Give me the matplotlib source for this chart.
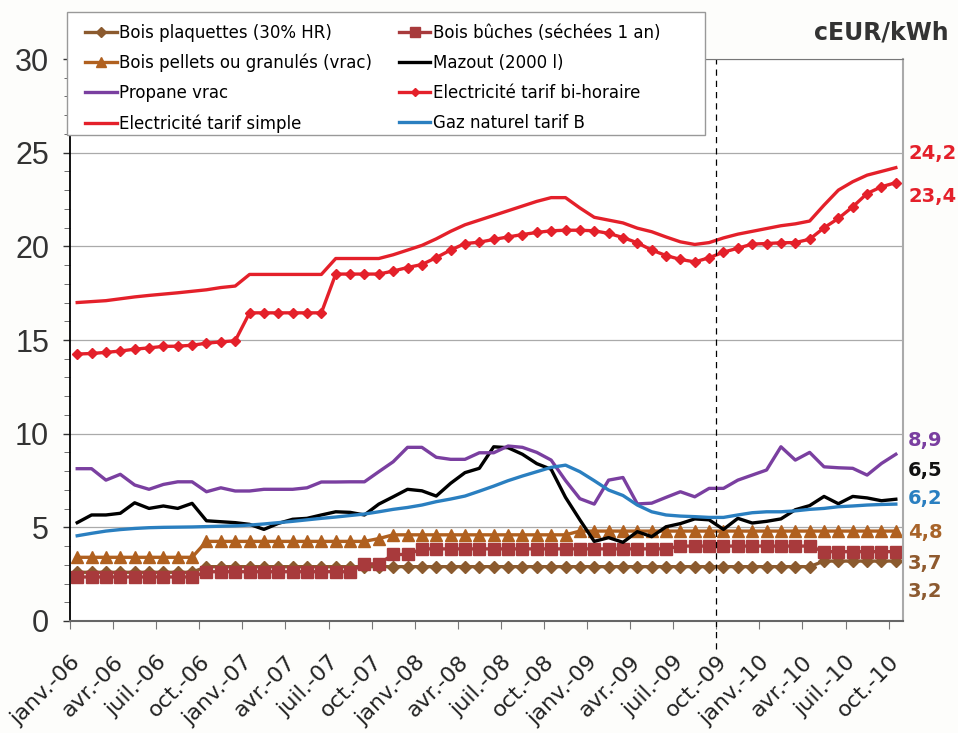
import matplotlib
matplotlib.use("Agg")
import matplotlib.pyplot as plt
import matplotlib.transforms as mtransforms
from matplotlib.patches import Rectangle
from matplotlib.ticker import MultipleLocator

# monthly prices, janv.-06 .. oct.-10 (58 months), cEUR/kWh
tick_labels = ["janv.-06", "avr.-06", "juil.-06", "oct.-06",
               "janv.-07", "avr.-07", "juil.-07", "oct.-07",
               "janv.-08", "avr.-08", "juil.-08", "oct.-08",
               "janv.-09", "avr.-09", "juil.-09", "oct.-09",
               "janv.-10", "avr.-10", "juil.-10", "oct.-10"]

plaquettes = [2.6] * 9 + [2.9] * 43 + [3.2] * 6
buches = [2.35] * 9 + [2.63] * 11 + [3.05] * 2 + [3.55] * 2 + [3.85] * 18 + [4.0] * 10 + [3.7] * 6
pellets = [3.4] * 9 + [4.25] * 12 + [4.4] + [4.6] * 13 + [4.8] * 23
mazout = [5.25, 5.66, 5.66, 5.75, 6.31, 6.01, 6.14, 6.01, 6.28, 5.35,
          5.3, 5.25, 5.16, 4.89, 5.21, 5.43, 5.48, 5.66, 5.83, 5.8,
          5.66, 6.24, 6.63, 7.03, 6.95, 6.67, 7.35, 7.92, 8.15, 9.3,
          9.25, 8.9, 8.4, 8.1, 6.6, 5.4, 4.25, 4.45, 4.2, 4.77,
          4.5, 5.03, 5.2, 5.45, 5.4, 4.89, 5.48, 5.23, 5.32, 5.45,
          5.94, 6.16, 6.65, 6.26, 6.65, 6.57, 6.42, 6.5]
propane = [8.13, 8.13, 7.52, 7.83, 7.26, 7.03, 7.29, 7.43, 7.43, 6.9,
           7.11, 6.94, 6.94, 7.03, 7.03, 7.03, 7.11, 7.42, 7.42, 7.43,
           7.43, 7.97, 8.5, 9.27, 9.27, 8.74, 8.63, 8.63, 8.98, 8.98,
           9.34, 9.27, 9.0, 8.59, 7.5, 6.53, 6.24, 7.52, 7.66, 6.25,
           6.29, 6.6, 6.9, 6.63, 7.08, 7.08, 7.52, 7.79, 8.06, 9.3,
           8.59, 9.0, 8.23, 8.18, 8.15, 7.79, 8.41, 8.9]
bihoraire = [14.25, 14.28, 14.34, 14.41, 14.51, 14.58, 14.66, 14.67, 14.72, 14.83,
             14.9, 14.96, 16.45, 16.45, 16.45, 16.45, 16.45, 16.45, 18.52, 18.52,
             18.52, 18.52, 18.68, 18.87, 19.03, 19.4, 19.8, 20.15, 20.22, 20.37,
             20.5, 20.63, 20.74, 20.83, 20.86, 20.86, 20.83, 20.69, 20.47, 20.19,
             19.8, 19.51, 19.3, 19.17, 19.39, 19.69, 19.9, 20.12, 20.15, 20.19,
             20.2, 20.38, 20.99, 21.49, 22.11, 22.82, 23.18, 23.4]
simple = [17.0, 17.05, 17.1, 17.2, 17.3, 17.38, 17.45, 17.52, 17.6, 17.68,
          17.8, 17.88, 18.5, 18.5, 18.5, 18.5, 18.5, 18.5, 19.35, 19.35,
          19.35, 19.35, 19.55, 19.8, 20.05, 20.4, 20.8, 21.15, 21.4, 21.65,
          21.9, 22.15, 22.4, 22.6, 22.6, 22.05, 21.55, 21.4, 21.25, 20.97,
          20.78, 20.5, 20.24, 20.1, 20.2, 20.45, 20.65, 20.8, 20.95, 21.1,
          21.2, 21.35, 22.2, 23.0, 23.45, 23.8, 24.0, 24.2]
gaz = [4.55, 4.68, 4.8, 4.88, 4.94, 4.98, 5.0, 5.01, 5.02, 5.04,
       5.06, 5.08, 5.12, 5.18, 5.25, 5.32, 5.4, 5.48, 5.55, 5.63,
       5.71, 5.83, 5.96, 6.06, 6.19, 6.37, 6.51, 6.67, 6.93, 7.2,
       7.49, 7.74, 7.97, 8.2, 8.32, 7.97, 7.49, 6.99, 6.7, 6.19,
       5.83, 5.66, 5.6, 5.57, 5.53, 5.53, 5.66, 5.78, 5.83, 5.83,
       5.88, 5.96, 6.01, 6.1, 6.14, 6.19, 6.22, 6.24]

months = [i + 0.5 for i in range(len(simple))]

fig = plt.figure(figsize=(9.58, 7.33), dpi=100)
fig.patch.set_facecolor("#fdfdfb")
ax = fig.add_axes([0.0731, 0.1528, 0.8695, 0.7667])

lw = 2.4
series = {}
series["plaq"], = ax.plot(months, plaquettes, color="#8b5a2e", lw=lw, marker="D", ms=6, label="Bois plaquettes (30% HR)")
series["buch"], = ax.plot(months, buches, color="#a83a3c", lw=lw, marker="s", ms=9, label="Bois bûches (séchées 1 an)")
series["pell"], = ax.plot(months, pellets, color="#b0601f", lw=lw, marker="^", ms=9, label="Bois pellets ou granulés (vrac)")
series["maz"], = ax.plot(months, mazout, color="black", lw=lw, label="Mazout (2000 l)")
series["prop"], = ax.plot(months, propane, color="#7a3fa0", lw=lw, label="Propane vrac")
series["bi"], = ax.plot(months, bihoraire, color="#e4202a", lw=lw, marker="D", ms=5, label="Electricité tarif bi-horaire")
series["simp"], = ax.plot(months, simple, color="#e4202a", lw=lw, label="Electricité tarif simple")
series["gaz"], = ax.plot(months, gaz, color="#2a7fc0", lw=lw, label="Gaz naturel tarif B")

ax.set_xlim(0, 58)
ax.set_ylim(0, 30)
ax.set_xticks(range(0, 58, 3))
ax.set_xticklabels(tick_labels, rotation=45, ha="right", rotation_mode="anchor",
                   fontsize=16, color="#222222")
shift = mtransforms.ScaledTranslation(14 / 100, 0, fig.dpi_scale_trans)
for lab in ax.get_xticklabels():
    lab.set_transform(lab.get_transform() + shift)
ax.yaxis.set_major_locator(MultipleLocator(5))
ax.yaxis.set_minor_locator(MultipleLocator(1))
for lab in ax.get_yticklabels():
    lab.set_fontfamily("Liberation Sans")
ax.tick_params(axis="y", labelsize=22, colors="#333333", length=5, width=1, pad=10)
ax.tick_params(axis="y", which="minor", length=4, color="#555555")
ax.tick_params(axis="x", length=6, color="#777777", pad=16)
ax.grid(axis="y", color="#aaaaaa", lw=0.9)
ax.set_axisbelow(True)
ax.spines["left"].set_color("black")
ax.spines["left"].set_linewidth(1.3)
ax.spines["bottom"].set_color("#666666")
ax.spines["bottom"].set_linewidth(1.5)
ax.spines["right"].set_color("#aaaaaa")
ax.spines["right"].set_linewidth(1.5)
ax.spines["top"].set_color("#777777")

# vertical marker at oct.-09
ax.plot([45, 45], [-0.05, 1.0], transform=ax.get_xaxis_transform(), clip_on=False,
        color="black", lw=0.9, ls=(0, (5, 4)))

# final values on the right
end_labels = [(simple, "#e4202a", 24.97), (bihoraire, "#e4202a", 22.68),
              (propane, "#7a3fa0", 9.66), (mazout, "#111111", 8.06),
              (gaz, "#2a7fc0", 6.56), (pellets, "#a8642a", 4.7),
              (buches, "#8f5a2e", 3.09), (plaquettes, "#8c5a30", 1.55)]
for vals, col, ypos in end_labels:
    ax.text(1.006, ypos, f"{vals[-1]:.1f}".replace(".", ","), transform=ax.get_yaxis_transform(),
            color=col, fontsize=14, fontweight="bold", va="center", ha="left")

fig.text(0.99, 0.956, "cEUR/kWh", fontsize=17, fontweight="bold", color="#333333",
         ha="right", va="center")

# legend box (drawn separately so it can be wider than its entries)
fig.patches.append(Rectangle((67 / 958, 1 - 135 / 733), 638 / 958, 123 / 733,
                             transform=fig.transFigure, facecolor="white",
                             edgecolor="#999999", lw=1, zorder=9))
order = ["plaq", "pell", "prop", "simp", "buch", "maz", "bi", "gaz"]
leg = fig.legend([series[k] for k in order], [series[k].get_label() for k in order],
                 ncol=2, loc="upper left", bbox_to_anchor=(0.073, 0.988),
                 fontsize=12, frameon=False, handlelength=1.9,
                 handletextpad=0.15, columnspacing=1.6, labelspacing=0.72,
                 borderpad=0.4, markerscale=0.8)
leg.set_zorder(10)

fig.savefig("out.png", dpi=100, facecolor=fig.get_facecolor())
